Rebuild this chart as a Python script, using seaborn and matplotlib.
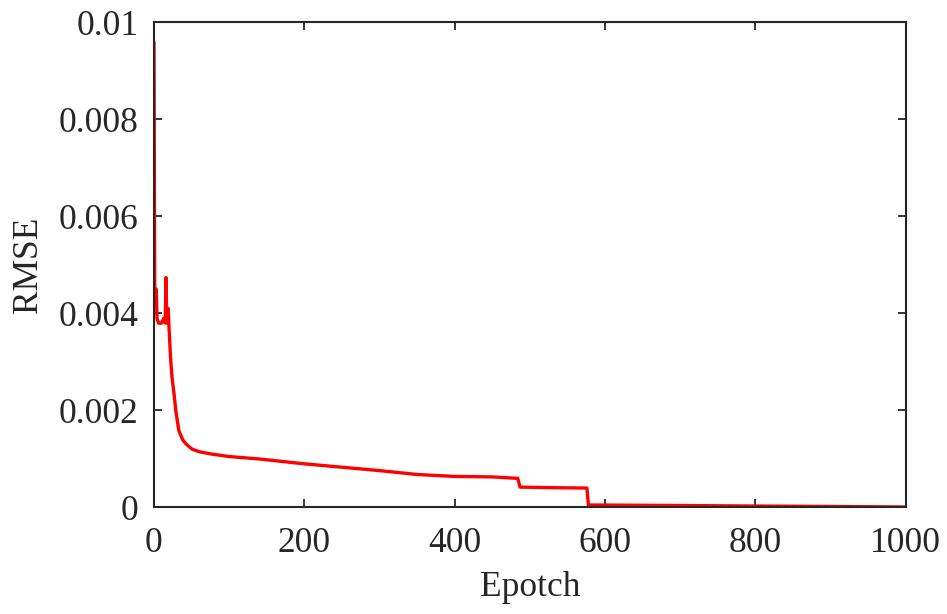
import matplotlib
matplotlib.use("Agg")
import matplotlib.pyplot as plt
import seaborn as sns
import pandas as pd

epochs = [0, 1, 2, 3, 4, 6, 10, 13, 15, 16, 17, 18, 19, 20, 21, 22, 24, 27, 29, 33, 38, 42, 47, 51, 60, 77, 100, 140, 200, 250, 300, 350, 400, 450, 484, 487, 520, 576, 578, 600, 700, 800, 900, 1000]
rmse = [0.0096, 0.0045, 0.0043, 0.0045, 0.0039, 0.0038, 0.0038, 0.0039, 0.0038, 0.00474, 0.0039, 0.0038, 0.0041, 0.0037, 0.0034, 0.0031, 0.00268, 0.0023, 0.0020, 0.00159, 0.0014, 0.00132, 0.00125, 0.0012, 0.00115, 0.0011, 0.00105, 0.001, 0.0009, 0.00083, 0.00076, 0.00068, 0.00064, 0.00063, 0.0006, 0.00042, 0.00041, 0.0004, 0.00005, 0.00005, 0.00004, 0.00003, 0.00002, 0.00001]

df = pd.DataFrame({"Epotch": epochs, "RMSE": rmse})

sns.set_theme(style="white")
plt.rcParams["font.family"] = ["Liberation Serif", "DejaVu Serif"]

fig = plt.figure(figsize=(9.47, 6.14), dpi=100)
ax = fig.add_axes([0.1626, 0.1735, 0.7937, 0.7899])
sns.lineplot(data=df, x="Epotch", y="RMSE", color="red", linewidth=2.4, ax=ax, sort=False)

ax.set_xlim(0, 1000)
ax.set_ylim(0, 0.01)
ax.set_xticks([0, 200, 400, 600, 800, 1000])
ax.set_yticks([0, 0.002, 0.004, 0.006, 0.008, 0.01])
ax.set_yticklabels(["0", "0.002", "0.004", "0.006", "0.008", "0.01"])
ax.tick_params(direction="in", length=5.8, width=1.3, colors="#262626", labelsize=25.5,
               top=True, right=True, bottom=True, left=True)
ax.tick_params(axis="x", pad=14)
ax.tick_params(axis="y", pad=11)
for lab in ax.get_xticklabels() + ax.get_yticklabels():
    lab.set_color("#262626")
for s in ax.spines.values():
    s.set_linewidth(1.5)
    s.set_color("#262626")
ax.set_xlabel("Epotch", fontsize=25.5, color="#262626", labelpad=8)
ax.set_ylabel("RMSE", fontsize=25.5, color="#262626", labelpad=10)

fig.savefig("out.png", dpi=100)
